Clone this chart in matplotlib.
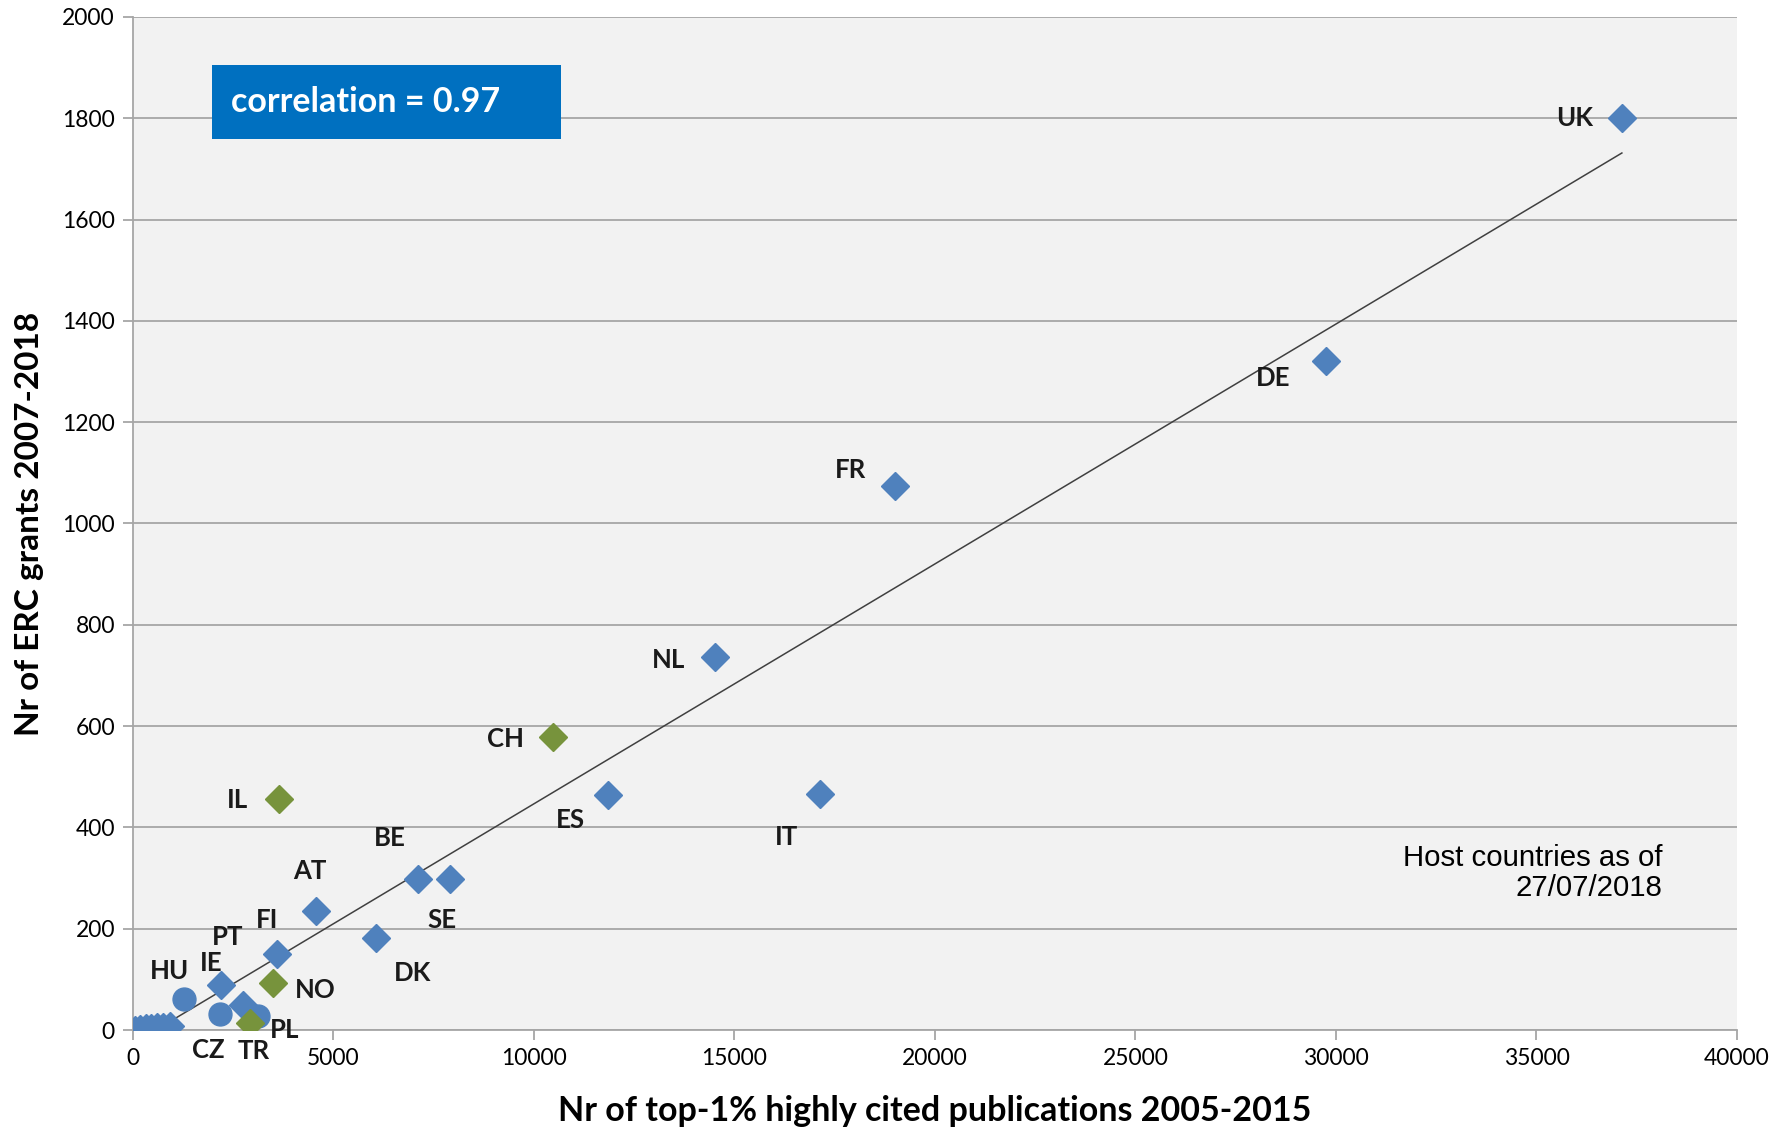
import numpy as np
import matplotlib
matplotlib.use('Agg')
import matplotlib.pyplot as plt
from matplotlib.patches import Rectangle

# Data

countries = ['UK', 'DE', 'FR', 'NL', 'ES', 'IT', 'BE', 'SE', 'AT', 'DK', 'FI', 'IE', 'PT']
pubs = [37130, 29760, 19000, 14510, 11840, 17130, 7110, 7910, 4560, 6070, 3580, 2200, 2750]
grants = [1800, 1320, 1075, 736, 463, 466, 299, 299, 235, 181, 151, 88, 50]

assoc = ['CH', 'IL', 'NO', 'TR']
assoc_pubs = [10470, 3640, 3480, 2930]
assoc_grants = [578, 457, 92, 14]

eu13 = ['HU', 'CZ', 'PL']
eu13_pubs = [1270, 2160, 3130]
eu13_grants = [62, 32, 28]

small_pubs = [40, 170, 320, 460, 600, 750, 920]
small_grants = [0, 2, 4, 3, 6, 5, 8]

# label offsets in points (dx, dy)
label_off = {
    'UK': (-34, 0), 'DE': (-38, -12), 'FR': (-32, 11), 'NL': (-33, -2),
    'ES': (-27, -18), 'IT': (-24, -31), 'BE': (-20, 29), 'SE': (-6, -30),
    'AT': (-4, 29), 'DK': (26, -25), 'FI': (-7, 24), 'IE': (-7, 16),
    'PT': (-11, 49), 'CH': (-34, -1), 'IL': (-30, -1), 'NO': (31, -5),
    'TR': (2, -20), 'HU': (-10, 20), 'CZ': (-8, -26), 'PL': (19, -10),
}

blue = '#4F81BD'
green = '#77933C'

all_x = np.array(pubs + assoc_pubs + eu13_pubs + small_pubs, dtype=float)
all_y = np.array(grants + assoc_grants + eu13_grants + small_grants, dtype=float)
slope, icept = np.polyfit(all_x, all_y, 1)
corr = np.corrcoef(all_x, all_y)[0, 1]

# Graph

fig = plt.figure(figsize=(17.87, 11.32), dpi=100)
ax = fig.add_axes([0.0744, 0.0901, 0.8976, 0.8949])
ax.set_facecolor('#F2F2F2')

ax.set_xlim(0, 40000)
ax.set_ylim(0, 2000)
ax.set_xticks(np.arange(0, 40001, 5000))
ax.set_yticks(np.arange(0, 2001, 200))
ax.yaxis.grid(True, color='#A6A6A6', linewidth=1.3)
ax.set_axisbelow(True)
for s in ['top', 'right']:
    ax.spines[s].set_visible(False)
for s in ['left', 'bottom']:
    ax.spines[s].set_color('#A6A6A6')
    ax.spines[s].set_linewidth(1.3)
ax.tick_params(length=7, width=1.3, color='#A6A6A6', labelsize=16.5, pad=6)
for lab in ax.get_xticklabels() + ax.get_yticklabels():
    lab.set_family('Lato')

# trend line
tx = np.array([0, max(all_x)])
ax.plot(tx, slope * tx + icept, color='#404040', linewidth=1.1, zorder=3)

# markers
ax.plot(small_pubs, small_grants, 'D', color=blue, markersize=14.5, zorder=4)
ax.plot(pubs, grants, 'D', color=blue, markersize=14.5, zorder=4)
ax.plot(eu13_pubs, eu13_grants, 'o', color=blue, markersize=16.5, zorder=4)
ax.plot(assoc_pubs, assoc_grants, 'D', color=green, markersize=14.5, zorder=5)

names = countries + assoc + eu13
xs = pubs + assoc_pubs + eu13_pubs
ys = grants + assoc_grants + eu13_grants
for n, x, y in zip(names, xs, ys):
    ax.annotate(n, (x, y), xytext=label_off[n], textcoords='offset points',
                ha='center', va='center', fontsize=18.5, fontweight='bold',
                family='Lato', color='#1a1a1a', zorder=6)

# correlation box
ax.add_patch(Rectangle((0.049, 0.8797), 0.2176, 0.0731, transform=ax.transAxes,
                       facecolor='#0070C0', edgecolor='none', zorder=6))
ax.text(0.061, 0.9162, 'correlation = %.2f' % corr, transform=ax.transAxes,
        ha='left', va='center', color='white', fontsize=24.5, fontweight='bold',
        family='Lato', zorder=7)

ax.text(0.9538, 0.155, 'Host countries as of\n27/07/2018', transform=ax.transAxes,
        ha='right', va='center', fontsize=21.2, family='Liberation Sans',
        linespacing=1.12, zorder=6)

ax.set_xlabel('Nr of top-1% highly cited publications 2005-2015', fontsize=24.5,
              fontweight='bold', family='Lato', labelpad=19)
ax.set_ylabel('Nr of ERC grants 2007-2018', fontsize=24, fontweight='bold',
              family='Lato', labelpad=13)

fig.savefig('out.png', dpi=100)
